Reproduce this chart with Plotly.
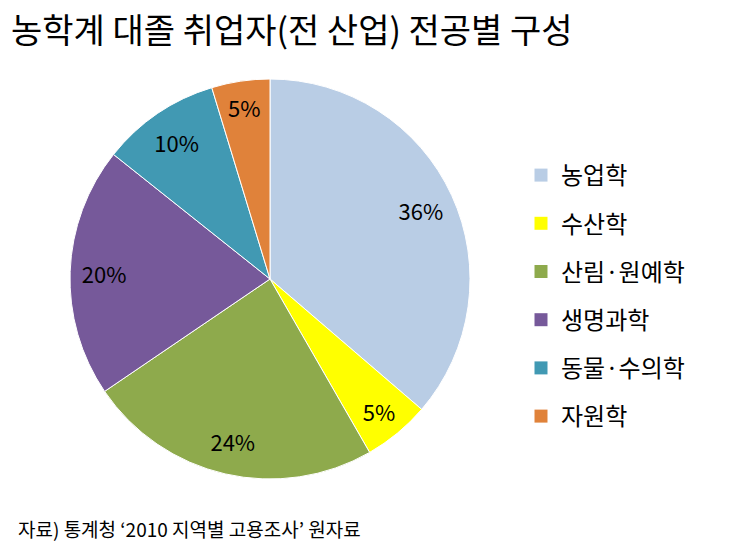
import plotly.graph_objects as go

categories = ["농업학", "수산학", "산림·원예학", "생명과학", "동물·수의학", "자원학"]
values = [36.3, 5.4, 23.8, 20.2, 9.6, 4.7]
colors = ["#B9CDE5", "#FFFF00", "#8EAA4C", "#76599A", "#4199B3", "#E0823A"]

title_text = "농학계 대졸 취업자(전 산업) 전공별 구성"
source_text = "자료) 통계청 ‘2010 지역별 고용조사’ 원자료"

W, H = 732, 555
cx, cy, R = 270, 279, 200
font = "Noto Sans CJK KR, Malgun Gothic, sans-serif"

dom_x = [(cx - R) / W, (cx + R) / W]
dom_y = [1 - (cy + R) / H, 1 - (cy - R) / H]

fig = go.Figure()
# main pie
fig.add_trace(go.Pie(
    labels=categories, values=values, sort=False, direction="clockwise",
    rotation=0, marker=dict(colors=colors, line=dict(color="white", width=1)),
    textinfo="none", showlegend=False, hoverinfo="label+percent",
    domain=dict(x=dom_x, y=dom_y),
))
# label ring (transparent) to place the percentages near the outer part
fig.add_trace(go.Pie(
    labels=categories, values=values, sort=False, direction="clockwise",
    rotation=0, hole=0.66,
    marker=dict(colors=["rgba(0,0,0,0)"] * len(values), line=dict(width=0)),
    texttemplate="%{percent:.0%}", textposition="inside",
    insidetextorientation="horizontal",
    textfont=dict(family=font, size=22, color="black"),
    showlegend=False, hoverinfo="skip",
    domain=dict(x=dom_x, y=dom_y),
))
# legend entries
for i, (c, col) in enumerate(zip(categories, colors)):
    fig.add_trace(go.Scatter(
        x=[None], y=[None], mode="markers", name=c,
        marker=dict(symbol="square", size=13, color=col),
        legendgroup=str(i), showlegend=True,
    ))

fig.update_layout(
    width=W, height=H,
    margin=dict(l=0, r=0, t=0, b=0),
    paper_bgcolor="white", plot_bgcolor="white",
    xaxis=dict(visible=False), yaxis=dict(visible=False),
    showlegend=True,
    legend=dict(
        x=521 / W, y=1 - 153 / H, xanchor="left", yanchor="top",
        font=dict(family=font, size=24, color="black"),
        tracegroupgap=14, traceorder="grouped",
        bgcolor="rgba(0,0,0,0)", itemclick=False,
    ),
    annotations=[
        dict(text=title_text, x=9 / W, y=1 - 2 / H, xref="paper", yref="paper",
             xanchor="left", yanchor="top", showarrow=False,
             font=dict(family=font, size=34, color="black")),
        dict(text=source_text, x=16 / W, y=1 - 528 / H, xref="paper", yref="paper",
             xanchor="left", yanchor="middle", showarrow=False,
             font=dict(family=font, size=19, color="black")),
    ],
)

fig.write_html("out.html")
